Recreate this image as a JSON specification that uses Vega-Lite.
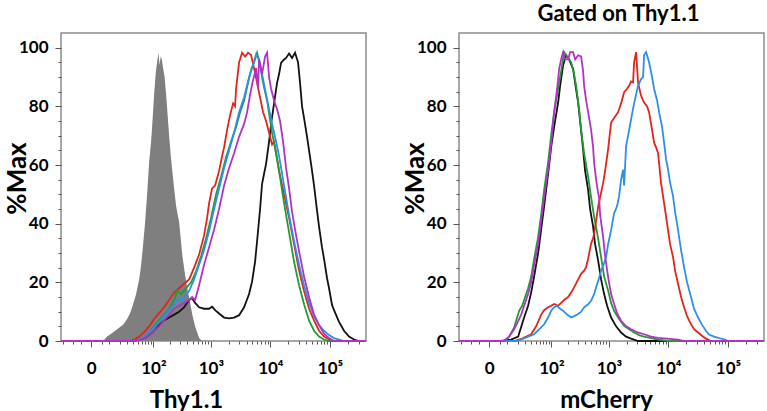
{
"$schema": "https://vega.github.io/schema/vega-lite/v6.json",
"padding": {"left": 3, "top": 2, "right": 0, "bottom": 0},
"spacing": 30,
"config": {
 "font": "Lato",
 "view": {"stroke": "#8c8c8c", "strokeWidth": 1.5},
 "axis": {"labelFont": "Lato", "labelFontWeight": "bold", "labelFontSize": 17, "labelColor": "#000", "titleFont": "Lato", "titleFontWeight": "bold", "titleColor": "#000", "grid": false, "domain": false, "tickColor": "#555", "tickWidth": 1, "labelOverlap": false, "labelFlush": false},
 "axisX": {"titleFontSize": 24, "labelPadding": 13, "titleY": 47},
 "axisY": {"titleFontSize": 26, "labelPadding": 7, "titleX": -31, "titleY": 145},
 "title": {"font": "Lato", "fontWeight": "bold", "fontSize": 22, "color": "#000", "offset": 7, "anchor": "middle", "dx": 7}
},
"datasets": {
 "L_gray": [{"x":5.9,"y":0},{"x":8.5,"y":1.5},{"x":11.6,"y":2.5},{"x":15.2,"y":3.5},{"x":19.4,"y":4.5},{"x":24.3,"y":5.5},{"x":30,"y":7.5},{"x":34.9,"y":9.5},{"x":40.4,"y":12.5},{"x":46.6,"y":16},{"x":53.6,"y":21},{"x":58.7,"y":26},{"x":64.2,"y":33},{"x":70.1,"y":40.6},{"x":76.5,"y":50},{"x":83.5,"y":61},{"x":90.9,"y":68},{"x":96.1,"y":74.7},{"x":103.3,"y":84},{"x":111,"y":91.7},{"x":117.2,"y":95},{"x":123.7,"y":98.3},{"x":130.1,"y":94},{"x":135.6,"y":97},{"x":142.5,"y":96},{"x":150.3,"y":93},{"x":159.8,"y":90},{"x":169.9,"y":84},{"x":179.2,"y":78},{"x":192,"y":70},{"x":205.7,"y":63},{"x":221,"y":57},{"x":235,"y":52},{"x":254.5,"y":46},{"x":287,"y":40.6},{"x":327,"y":29},{"x":364,"y":22.5},{"x":399,"y":17.8},{"x":444,"y":13},{"x":486,"y":8.8},{"x":540,"y":5},{"x":584,"y":3},{"x":632,"y":1},{"x":711,"y":0}],
 "L_black": [{"x":-22,"y":0},{"x":42.4,"y":0},{"x":53.6,"y":0.5},{"x":67.1,"y":1},{"x":83.5,"y":2},{"x":103.3,"y":3.5},{"x":127.4,"y":5.4},{"x":156.6,"y":7},{"x":192,"y":8},{"x":235,"y":9},{"x":287,"y":10},{"x":350,"y":11.5},{"x":427,"y":14},{"x":480,"y":14.6},{"x":540,"y":13},{"x":632,"y":11.5},{"x":768,"y":11},{"x":934,"y":11},{"x":1049,"y":11.7},{"x":1179,"y":10.5},{"x":1377,"y":9.4},{"x":1672,"y":8},{"x":2030,"y":7.7},{"x":2463,"y":8},{"x":2989,"y":8.8},{"x":3626,"y":11.5},{"x":4399,"y":16},{"x":4939,"y":20.3},{"x":5545,"y":27},{"x":5990,"y":34},{"x":6726,"y":45},{"x":7265,"y":53.6},{"x":7848,"y":57},{"x":8478,"y":60.4},{"x":9518,"y":68},{"x":10281,"y":74},{"x":11543,"y":81},{"x":12959,"y":88},{"x":13998,"y":91},{"x":15120,"y":94.8},{"x":16975,"y":96},{"x":18336,"y":96.5},{"x":20585,"y":98},{"x":23110,"y":96.5},{"x":25942,"y":98.3},{"x":29124,"y":95},{"x":31457,"y":88},{"x":33979,"y":80},{"x":36701,"y":76},{"x":41202,"y":69.6},{"x":44502,"y":65},{"x":49959,"y":58},{"x":53961,"y":53},{"x":60578,"y":44.4},{"x":65430,"y":39},{"x":73453,"y":31.8},{"x":79336,"y":28},{"x":89064,"y":21.4},{"x":96198,"y":18},{"x":107993,"y":12.3},{"x":116640,"y":10.5},{"x":141430,"y":6.5},{"x":171490,"y":3.5},{"x":207930,"y":1.5},{"x":252120,"y":0.5},{"x":305700,"y":0},{"x":400000,"y":0}],
 "L_red": [{"x":-22,"y":0},{"x":33.2,"y":0},{"x":42.4,"y":0.5},{"x":53.6,"y":1.5},{"x":67.1,"y":3},{"x":83.5,"y":5},{"x":103.3,"y":7.5},{"x":127.4,"y":9.5},{"x":156.6,"y":11.5},{"x":192,"y":14},{"x":235,"y":16.5},{"x":287,"y":18},{"x":350,"y":19.5},{"x":427,"y":21},{"x":519,"y":25},{"x":632,"y":29.5},{"x":768,"y":36},{"x":864,"y":42},{"x":934,"y":47},{"x":1049,"y":52},{"x":1179,"y":53},{"x":1377,"y":58},{"x":1547,"y":63},{"x":1672,"y":66},{"x":1878,"y":72},{"x":2110,"y":77},{"x":2370,"y":81},{"x":2560,"y":80},{"x":2661,"y":86},{"x":2989,"y":95},{"x":3357,"y":98.3},{"x":3769,"y":97},{"x":4232,"y":98.3},{"x":4752,"y":97.5},{"x":5335,"y":93},{"x":5990,"y":88},{"x":6726,"y":83},{"x":7551,"y":78},{"x":8478,"y":75},{"x":9518,"y":71},{"x":10686,"y":67},{"x":11543,"y":68},{"x":12468,"y":64},{"x":13998,"y":58},{"x":16975,"y":50},{"x":20585,"y":42},{"x":24961,"y":33},{"x":30267,"y":24},{"x":36701,"y":17},{"x":44502,"y":11},{"x":53961,"y":7},{"x":65430,"y":3.5},{"x":79336,"y":1.5},{"x":96198,"y":0.5},{"x":116640,"y":0},{"x":400000,"y":0}],
 "L_green": [{"x":-22,"y":0},{"x":42.4,"y":0},{"x":53.6,"y":0.5},{"x":67.1,"y":1.5},{"x":83.5,"y":3},{"x":103.3,"y":5},{"x":127.4,"y":7},{"x":156.6,"y":9},{"x":192,"y":11},{"x":235,"y":14},{"x":265,"y":17},{"x":311,"y":16},{"x":379,"y":18},{"x":462,"y":20},{"x":562,"y":23.7},{"x":683,"y":29},{"x":831,"y":35},{"x":1009,"y":42},{"x":1226,"y":50},{"x":1488,"y":56},{"x":1807,"y":62.7},{"x":2193,"y":68},{"x":2661,"y":73},{"x":3107,"y":78},{"x":3626,"y":82},{"x":4232,"y":88},{"x":4752,"y":92.5},{"x":5335,"y":95},{"x":5990,"y":98.3},{"x":6726,"y":94},{"x":7551,"y":88},{"x":8811,"y":82},{"x":10686,"y":71},{"x":12468,"y":64},{"x":13998,"y":58},{"x":16975,"y":47},{"x":20585,"y":37},{"x":24961,"y":27},{"x":30267,"y":19},{"x":36701,"y":12.5},{"x":44502,"y":7},{"x":53961,"y":3.5},{"x":65430,"y":1.5},{"x":79336,"y":0.5},{"x":96198,"y":0},{"x":400000,"y":0}],
 "L_blue": [{"x":-22,"y":0},{"x":42.4,"y":0},{"x":53.6,"y":0.5},{"x":67.1,"y":1.5},{"x":83.5,"y":3},{"x":103.3,"y":4.5},{"x":127.4,"y":6.5},{"x":156.6,"y":8.5},{"x":192,"y":10.5},{"x":235,"y":12.5},{"x":287,"y":14.5},{"x":323,"y":13.5},{"x":350,"y":15},{"x":427,"y":17},{"x":519,"y":21},{"x":632,"y":26},{"x":768,"y":31},{"x":934,"y":37.5},{"x":1134,"y":45},{"x":1377,"y":52},{"x":1672,"y":59},{"x":2030,"y":65},{"x":2463,"y":71},{"x":2989,"y":78},{"x":3626,"y":83},{"x":4399,"y":90},{"x":5134,"y":94},{"x":5763,"y":97.7},{"x":6471,"y":96},{"x":7265,"y":91},{"x":8478,"y":84},{"x":9518,"y":79},{"x":10686,"y":74},{"x":12468,"y":68},{"x":13998,"y":63},{"x":16975,"y":53},{"x":20585,"y":43},{"x":24961,"y":34},{"x":30267,"y":26},{"x":36701,"y":19},{"x":44502,"y":13},{"x":53961,"y":8.5},{"x":65430,"y":5.4},{"x":79336,"y":3.5},{"x":96198,"y":2},{"x":116640,"y":1},{"x":141430,"y":0.5},{"x":171490,"y":0},{"x":400000,"y":0}],
 "L_magenta": [{"x":-22,"y":0},{"x":42.4,"y":0},{"x":53.6,"y":0.3},{"x":67.1,"y":1},{"x":83.5,"y":2},{"x":103.3,"y":3.5},{"x":127.4,"y":5},{"x":156.6,"y":7},{"x":192,"y":9},{"x":235,"y":11},{"x":287,"y":12},{"x":350,"y":13},{"x":427,"y":14},{"x":480,"y":15},{"x":540,"y":14},{"x":632,"y":19},{"x":768,"y":26},{"x":934,"y":32},{"x":1134,"y":38},{"x":1377,"y":45},{"x":1672,"y":53},{"x":2030,"y":59},{"x":2463,"y":64},{"x":2989,"y":69.6},{"x":3626,"y":74},{"x":4072,"y":78},{"x":4572,"y":84},{"x":5134,"y":89},{"x":5763,"y":93},{"x":6226,"y":86},{"x":6471,"y":96},{"x":7265,"y":91},{"x":8157,"y":97},{"x":8811,"y":98.3},{"x":9518,"y":90},{"x":10281,"y":86},{"x":11543,"y":82},{"x":12959,"y":79},{"x":14548,"y":75},{"x":16333,"y":68},{"x":18336,"y":59},{"x":20585,"y":52},{"x":23110,"y":44},{"x":25942,"y":38},{"x":30267,"y":30.6},{"x":36701,"y":22},{"x":44502,"y":15},{"x":53961,"y":9},{"x":65430,"y":5.4},{"x":79336,"y":2.5},{"x":96198,"y":1},{"x":116640,"y":0},{"x":400000,"y":0}],
 "R_black": [{"x":-22,"y":0},{"x":5.9,"y":0},{"x":13.3,"y":0.5},{"x":20.6,"y":1.5},{"x":28.5,"y":8},{"x":34.9,"y":12},{"x":40.4,"y":16.5},{"x":46.6,"y":22},{"x":56.1,"y":30},{"x":64.2,"y":38},{"x":73.3,"y":46},{"x":87.1,"y":57},{"x":99,"y":66},{"x":112.4,"y":73},{"x":132.8,"y":81.3},{"x":144.2,"y":87},{"x":163,"y":94},{"x":184,"y":97.4},{"x":208,"y":96},{"x":244.5,"y":92.8},{"x":265,"y":88},{"x":299,"y":81.3},{"x":323,"y":75},{"x":364,"y":65.3},{"x":394,"y":58},{"x":444,"y":51.5},{"x":480,"y":45},{"x":540,"y":39},{"x":584,"y":33},{"x":657,"y":27.5},{"x":739,"y":21},{"x":831,"y":16},{"x":934,"y":12},{"x":1091,"y":8},{"x":1325,"y":5},{"x":1608,"y":2.9},{"x":1952,"y":1.5},{"x":2370,"y":0.8},{"x":3107,"y":0},{"x":400000,"y":0}],
 "R_green": [{"x":-22,"y":0},{"x":7.8,"y":0},{"x":11.6,"y":1.5},{"x":16.2,"y":4.6},{"x":19.4,"y":8},{"x":21.8,"y":10.3},{"x":25.7,"y":12},{"x":28.5,"y":14},{"x":34.9,"y":18},{"x":40.4,"y":21.8},{"x":46.6,"y":28},{"x":56.1,"y":35.5},{"x":64.2,"y":43},{"x":73.3,"y":51.5},{"x":87.1,"y":61},{"x":99,"y":70},{"x":112.4,"y":78},{"x":132.8,"y":86},{"x":150.3,"y":92},{"x":169.9,"y":98.5},{"x":192,"y":97},{"x":225.7,"y":95},{"x":254.5,"y":91},{"x":275.7,"y":87},{"x":311,"y":79},{"x":336.5,"y":72},{"x":379,"y":64},{"x":444,"y":56},{"x":499,"y":49},{"x":562,"y":42.4},{"x":657,"y":35},{"x":739,"y":28.6},{"x":831,"y":22},{"x":971,"y":17.2},{"x":1091,"y":13},{"x":1226,"y":10.3},{"x":1488,"y":7.5},{"x":1807,"y":5.2},{"x":2193,"y":4},{"x":2661,"y":2.9},{"x":3229,"y":2},{"x":3917,"y":1.5},{"x":5134,"y":1},{"x":6726,"y":0.5},{"x":9892,"y":0},{"x":400000,"y":0}],
 "R_red": [{"x":-22,"y":0},{"x":16.2,"y":0},{"x":25.7,"y":0.8},{"x":40.4,"y":2.3},{"x":51.2,"y":5},{"x":64.2,"y":9},{"x":73.3,"y":10.5},{"x":87.1,"y":11.5},{"x":99,"y":12},{"x":112.4,"y":12.6},{"x":132.8,"y":12},{"x":150.3,"y":13},{"x":169.9,"y":14},{"x":199.9,"y":15},{"x":225.7,"y":16.5},{"x":254.5,"y":18.3},{"x":299,"y":21},{"x":336.5,"y":22.9},{"x":379,"y":24},{"x":410,"y":25.2},{"x":444,"y":28},{"x":499,"y":33.2},{"x":540,"y":35},{"x":562,"y":36.7},{"x":608,"y":41},{"x":657,"y":45.8},{"x":711,"y":49},{"x":799,"y":53.8},{"x":864,"y":58},{"x":971,"y":65.3},{"x":1091,"y":74.5},{"x":1226,"y":76},{"x":1432,"y":78},{"x":1608,"y":81},{"x":1807,"y":84.8},{"x":2030,"y":86},{"x":2193,"y":87},{"x":2370,"y":88.5},{"x":2560,"y":88.2},{"x":2661,"y":95},{"x":2875,"y":98.5},{"x":3107,"y":88},{"x":3489,"y":83.6},{"x":3917,"y":81.3},{"x":4399,"y":80},{"x":4752,"y":78},{"x":5335,"y":72},{"x":5763,"y":67.6},{"x":6226,"y":66},{"x":6726,"y":64},{"x":7551,"y":53.8},{"x":8478,"y":47},{"x":9892,"y":37.8},{"x":10686,"y":33},{"x":11997,"y":28.6},{"x":12959,"y":24},{"x":14548,"y":19.5},{"x":16333,"y":15},{"x":18336,"y":11.5},{"x":20585,"y":8.5},{"x":24018,"y":5.7},{"x":26961,"y":4},{"x":31457,"y":2.9},{"x":36701,"y":1.8},{"x":42821,"y":0.8},{"x":51922,"y":0},{"x":400000,"y":0}],
 "R_blue": [{"x":-22,"y":0},{"x":19.4,"y":0},{"x":24.3,"y":0.5},{"x":34.9,"y":1.5},{"x":46.6,"y":2.3},{"x":58.7,"y":4},{"x":73.3,"y":5.7},{"x":87.1,"y":8},{"x":99,"y":10.3},{"x":112.4,"y":11.5},{"x":127.4,"y":12},{"x":144.2,"y":11},{"x":163,"y":10.3},{"x":192,"y":9},{"x":225.7,"y":8},{"x":254.5,"y":8.5},{"x":299,"y":9.2},{"x":336.5,"y":10},{"x":379,"y":11.5},{"x":444,"y":12.5},{"x":499,"y":13.7},{"x":562,"y":16},{"x":608,"y":18.3},{"x":683,"y":21.5},{"x":739,"y":24},{"x":831,"y":26.5},{"x":898,"y":28.6},{"x":971,"y":33},{"x":1091,"y":37.8},{"x":1226,"y":43.5},{"x":1377,"y":46},{"x":1488,"y":49.3},{"x":1608,"y":55},{"x":1738,"y":58.4},{"x":1807,"y":53},{"x":1952,"y":66.4},{"x":2110,"y":70},{"x":2370,"y":75.6},{"x":2661,"y":81},{"x":3107,"y":87},{"x":3489,"y":89.3},{"x":3769,"y":90},{"x":3917,"y":97.4},{"x":4232,"y":98.5},{"x":4752,"y":95},{"x":5335,"y":90},{"x":5763,"y":86},{"x":6471,"y":82},{"x":6990,"y":78},{"x":7848,"y":73},{"x":8478,"y":67.6},{"x":9158,"y":62},{"x":9892,"y":58.4},{"x":10686,"y":54},{"x":11997,"y":49.3},{"x":12959,"y":44},{"x":14548,"y":37.8},{"x":16333,"y":31},{"x":18336,"y":25.2},{"x":20585,"y":20},{"x":24018,"y":14.9},{"x":26961,"y":11},{"x":31457,"y":8},{"x":36701,"y":5.5},{"x":42821,"y":3.4},{"x":48067,"y":2.2},{"x":58284,"y":1.5},{"x":70672,"y":1},{"x":85692,"y":0.6},{"x":99979,"y":0},{"x":400000,"y":0}],
 "R_magenta": [{"x":-22,"y":0},{"x":7.8,"y":0},{"x":11.6,"y":1.5},{"x":16.2,"y":4},{"x":19.4,"y":6},{"x":24.3,"y":9},{"x":28.5,"y":12},{"x":34.9,"y":16},{"x":40.4,"y":20},{"x":46.6,"y":26},{"x":56.1,"y":33},{"x":64.2,"y":41},{"x":73.3,"y":49},{"x":87.1,"y":58.4},{"x":99,"y":67},{"x":112.4,"y":78},{"x":127.4,"y":86},{"x":138.4,"y":92.8},{"x":150.3,"y":96},{"x":163,"y":98.5},{"x":177,"y":96},{"x":199.9,"y":96},{"x":216.8,"y":98.5},{"x":244.5,"y":98.5},{"x":265,"y":96},{"x":299,"y":97.4},{"x":336.5,"y":97},{"x":364,"y":92},{"x":379,"y":87},{"x":410,"y":82},{"x":444,"y":78},{"x":499,"y":72},{"x":540,"y":66},{"x":562,"y":60.7},{"x":608,"y":55},{"x":657,"y":50.4},{"x":683,"y":49},{"x":711,"y":43},{"x":799,"y":35.5},{"x":864,"y":29},{"x":971,"y":21.8},{"x":1091,"y":16},{"x":1226,"y":12.6},{"x":1377,"y":9.5},{"x":1608,"y":6.9},{"x":1952,"y":5},{"x":2370,"y":4},{"x":2989,"y":3},{"x":3917,"y":2.3},{"x":5134,"y":1.5},{"x":6726,"y":1.1},{"x":9518,"y":0.8},{"x":14548,"y":0.5},{"x":18336,"y":0},{"x":400000,"y":0}]
},
"hconcat": [
 {
  "width": 305, "height": 308,
  "encoding": {
   "x": {"field": "x", "type": "quantitative", "scale": {"type": "symlog", "constant": 10, "domain": [-22, 400000], "nice": false, "zero": false},
    "axis": {"title": "Thy1.1", "titleX": 125,
     "values": [-20,-10,-5,0,5,10,20,30,40,50,60,70,80,90,100,200,300,400,500,600,700,800,900,1000,2000,3000,4000,5000,6000,7000,8000,9000,10000,20000,30000,40000,50000,60000,70000,80000,90000,100000,200000,300000],
     "labelExpr": "datum.value == 0 ? '0' : datum.value == 100 ? '10²' : datum.value == 1000 ? '10³' : datum.value == 10000 ? '10⁴' : datum.value == 100000 ? '10⁵' : ''",
     "tickSize": {"condition": {"test": "indexof([0,100,1000,10000,100000], datum.value) >= 0", "value": 6}, "value": 3}}},
   "y": {"field": "y", "type": "quantitative", "scale": {"domain": [0, 105], "nice": false},
    "axis": {"title": "%Max",
     "values": [0,5,10,15,20,25,30,35,40,45,50,55,60,65,70,75,80,85,90,95,100],
     "labelExpr": "datum.value % 20 == 0 ? datum.label : ''",
     "tickSize": {"condition": {"test": "datum.value % 20 == 0", "value": 6}, "value": 3}}}
  },
  "layer": [
   {"data": {"name": "L_gray"}, "mark": {"type": "area", "color": "#7f7f7f", "opacity": 1}},
   {"data": {"name": "L_black"}, "mark": {"type": "line", "color": "#111111", "strokeWidth": 1.8}},
   {"data": {"name": "L_red"}, "mark": {"type": "line", "color": "#e3241b", "strokeWidth": 1.8}},
   {"data": {"name": "L_green"}, "mark": {"type": "line", "color": "#229a35", "strokeWidth": 1.8}},
   {"data": {"name": "L_blue"}, "mark": {"type": "line", "color": "#2f8fe6", "strokeWidth": 1.8}},
   {"data": {"name": "L_magenta"}, "mark": {"type": "line", "color": "#b332c4", "strokeWidth": 1.8}}
  ]
 },
 {
  "width": 305, "height": 308,
  "title": "Gated on Thy1.1",
  "encoding": {
   "x": {"field": "x", "type": "quantitative", "scale": {"type": "symlog", "constant": 10, "domain": [-22, 400000], "nice": false, "zero": false},
    "axis": {"title": "mCherry", "titleX": 147,
     "values": [-20,-10,-5,0,5,10,20,30,40,50,60,70,80,90,100,200,300,400,500,600,700,800,900,1000,2000,3000,4000,5000,6000,7000,8000,9000,10000,20000,30000,40000,50000,60000,70000,80000,90000,100000,200000,300000],
     "labelExpr": "datum.value == 0 ? '0' : datum.value == 100 ? '10²' : datum.value == 1000 ? '10³' : datum.value == 10000 ? '10⁴' : datum.value == 100000 ? '10⁵' : ''",
     "tickSize": {"condition": {"test": "indexof([0,100,1000,10000,100000], datum.value) >= 0", "value": 6}, "value": 3}}},
   "y": {"field": "y", "type": "quantitative", "scale": {"domain": [0, 105], "nice": false},
    "axis": {"title": "%Max",
     "values": [0,5,10,15,20,25,30,35,40,45,50,55,60,65,70,75,80,85,90,95,100],
     "labelExpr": "datum.value % 20 == 0 ? datum.label : ''",
     "tickSize": {"condition": {"test": "datum.value % 20 == 0", "value": 6}, "value": 3}}}
  },
  "layer": [
   {"data": {"name": "R_black"}, "mark": {"type": "line", "color": "#111111", "strokeWidth": 1.8}},
   {"data": {"name": "R_green"}, "mark": {"type": "line", "color": "#229a35", "strokeWidth": 1.8}},
   {"data": {"name": "R_red"}, "mark": {"type": "line", "color": "#e3241b", "strokeWidth": 1.8}},
   {"data": {"name": "R_blue"}, "mark": {"type": "line", "color": "#2f8fe6", "strokeWidth": 1.8}},
   {"data": {"name": "R_magenta"}, "mark": {"type": "line", "color": "#b332c4", "strokeWidth": 1.8}}
  ]
 }
]
}
